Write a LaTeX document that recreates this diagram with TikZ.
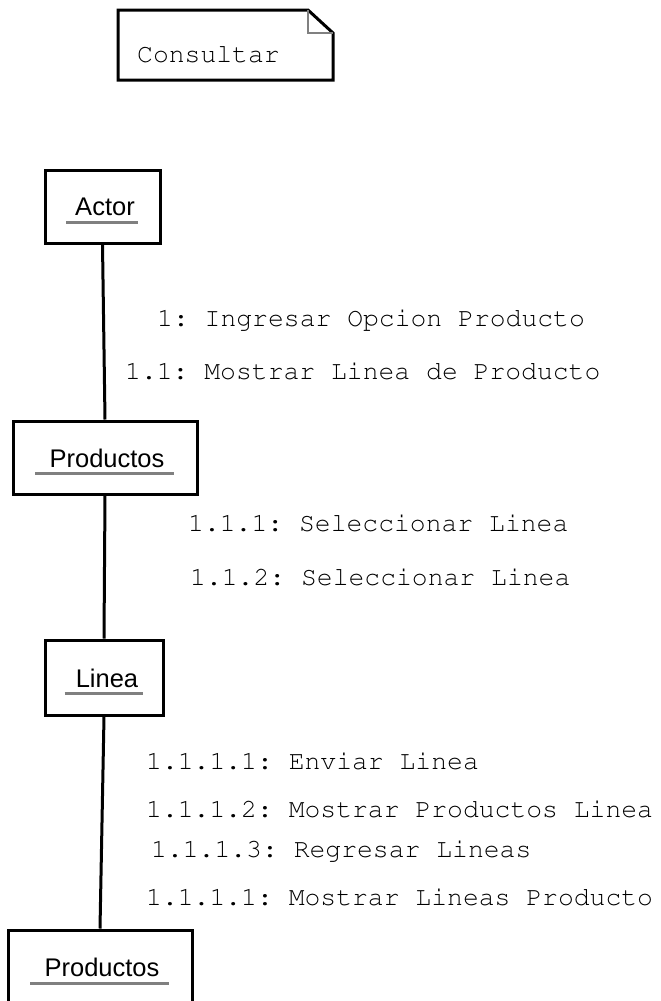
\documentclass[tikz,border=0pt]{standalone}
\usepackage[T1]{fontenc}
\usepackage{fontspec}
\usepackage{tikz}

\newfontfamily\dialogfont{Liberation Sans}
\newcommand\courierfont{\fontencoding{T1}\fontfamily{pcr}\selectfont\frenchspacing}

\begin{document}
\begin{tikzpicture}[x=1pt, y=-1pt,
    objbox/.style={draw, line width=3pt, inner sep=0pt},
    objname/.style={font=\dialogfont\fontsize{25.5}{30}\selectfont, inner sep=0pt, anchor=base},
    underl/.style={draw=gray, line width=3pt},
    msg/.style={font=\courierfont\fontsize{26.4}{30}\selectfont, inner sep=0pt, anchor=base west},
    link/.style={line width=3pt}]
    \useasboundingbox (0,0) rectangle (661,1001);
    \clip (0,0) rectangle (661,1001);

    % note
    \draw[line width=3pt] (118,10) -- (308,10) -- (333,33) -- (333,80) -- (118,80) -- cycle;
    \draw[gray, line width=2pt] (308,10) -- (308,33) -- (333,33);
    \node[msg] (consultar) at (137,62) {Consultar};

    % objects
    \node[objbox, minimum width=115pt, minimum height=73pt] (actor) at (102.5,206.5) {};
    \node[objname] (actorname) at (105,215) {Actor};
    \draw[underl] ([xshift=-9pt,yshift=-7pt]actorname.base west) -- ([xshift=3pt,yshift=-7pt]actorname.base east);

    \node[objbox, minimum width=184pt, minimum height=73pt] (productos) at (105,457.5) {};
    \node[objname] (productosname) at (107,467) {Productos};
    \draw[underl] ([xshift=-14pt,yshift=-6pt]productosname.base west) -- ([xshift=9pt,yshift=-6pt]productosname.base east);

    \node[objbox, minimum width=118pt, minimum height=75pt] (linea) at (104,677.5) {};
    \node[objname] (lineaname) at (107,687) {Linea};
    \draw[underl] ([xshift=-11pt,yshift=-6pt]lineaname.base west) -- ([xshift=5pt,yshift=-6pt]lineaname.base east);

    \node[objbox, minimum width=184pt, minimum height=80pt] (productosb) at (100,970) {};
    \node[objname] (productosbname) at (102,976) {Productos};
    \draw[underl] ([xshift=-14pt,yshift=-7pt]productosbname.base west) -- ([xshift=9pt,yshift=-7pt]productosbname.base east);

    % links
    \draw[link] (actor.south) -- (productos.north);
    \draw[link] (productos.south) -- (linea.north);
    \draw[link] (linea.south) -- (productosb.north);

    % messages
    \node[msg] (m1) at (157,326) {1: Ingresar Opcion Producto};
    \node[msg] (m11) at (125,379) {1.1: Mostrar Linea de Producto};
    \node[msg] (m111) at (188,531) {1.1.1: Seleccionar Linea};
    \node[msg] (m112) at (190,585) {1.1.2: Seleccionar Linea};
    \node[msg] (m1111) at (146,769) {1.1.1.1: Enviar Linea};
    \node[msg] (m1112) at (146,817) {1.1.1.2: Mostrar Productos Linea};
    \node[msg] (m1113) at (151,857) {1.1.1.3: Regresar Lineas};
    \node[msg] (m1111b) at (146,905) {1.1.1.1: Mostrar Lineas Producto};
\end{tikzpicture}
\end{document}
